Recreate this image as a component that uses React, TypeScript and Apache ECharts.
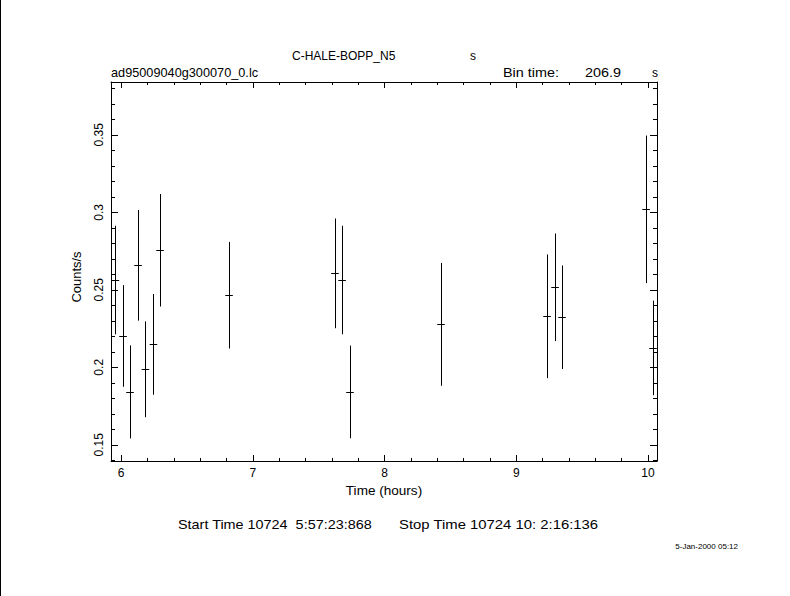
import React, { useEffect, useRef } from "react";
import * as echarts from "echarts";

// Light curve bins (time in hours, counts/s, 1-sigma error)
const times = [5.956, 6.014, 6.067, 6.128, 6.184, 6.245, 6.295, 6.819, 7.623, 7.677, 7.737, 8.428, 9.233, 9.294, 9.347, 9.985, 10.038];
const counts = [0.2563, 0.2202, 0.1841, 0.2658, 0.1987, 0.2148, 0.2755, 0.2465, 0.2606, 0.2563, 0.1841, 0.2277, 0.2329, 0.2516, 0.2323, 0.3019, 0.2125];
const errors = [0.035, 0.0328, 0.030, 0.0357, 0.0309, 0.0325, 0.0363, 0.0344, 0.0354, 0.035, 0.0299, 0.0396, 0.0399, 0.0347, 0.0334, 0.0476, 0.0305];
const binTimeSec = 206.9;

const xMin = 5.9226;
const xMax = 10.068;
const yMin = 0.13954;
const yMax = 0.38406;

const xMajor = [6, 7, 8, 9, 10];
const xMinor = [6.2, 6.4, 6.6, 6.8, 7.2, 7.4, 7.6, 7.8, 8.2, 8.4, 8.6, 8.8, 9.2, 9.4, 9.6, 9.8];
const xLabels = ["6", "7", "8", "9", "10"];
const yMajor = [0.15, 0.2, 0.25, 0.3, 0.35];
const yMinor = [0.14, 0.16, 0.17, 0.18, 0.19, 0.21, 0.22, 0.23, 0.24, 0.26, 0.27, 0.28, 0.29, 0.31, 0.32, 0.33, 0.34, 0.36, 0.37, 0.38];
const yLabels = ["0.15", "0.2", "0.25", "0.3", "0.35"];

const FONT = "'Liberation Sans', Arial, sans-serif";
const BLACK = "#000";

function labelFor(values: number[], labels: string[]) {
  return (v: number) => {
    for (let i = 0; i < values.length; i++) {
      if (Math.abs(values[i] - v) < 1e-6) return labels[i];
    }
    return "";
  };
}

function txt(text: string, x: number, y: number, opts: any = {}) {
  return {
    type: "text",
    x,
    y,
    scaleX: opts.scaleX ?? 1,
    rotation: opts.rotation ?? 0,
    style: {
      text,
      fill: BLACK,
      fontSize: opts.fontSize ?? 12,
      fontFamily: FONT,
      align: opts.align ?? "left",
      verticalAlign: "middle",
    },
  };
}

export default function App() {
  const ref = useRef<HTMLDivElement>(null);

  useEffect(() => {
    if (!ref.current) return;
    const chart = echarts.init(ref.current, undefined, { renderer: "svg" });
    const half = binTimeSec / 3600 / 2;
    const data = times.map((t, i) => [t, counts[i], errors[i]]);

    const xBase = (position: string, showLine: boolean, ticks: number[], len: number, labels: boolean) => ({
      type: "value",
      gridIndex: 0,
      position,
      min: xMin,
      max: xMax,
      axisLine: { show: showLine, onZero: false, lineStyle: { color: BLACK, width: 1 } },
      axisTick: { show: true, inside: true, length: len, customValues: ticks, lineStyle: { color: BLACK, width: 1 } },
      axisLabel: labels
        ? { show: true, customValues: xMajor, formatter: labelFor(xMajor, xLabels), margin: 6, color: BLACK, fontSize: 12, fontFamily: FONT }
        : { show: false },
      splitLine: { show: false },
    });
    const yBase = (position: string, showLine: boolean, ticks: number[], len: number, labels: boolean) => ({
      type: "value",
      gridIndex: 0,
      position,
      min: yMin,
      max: yMax,
      axisLine: { show: showLine, onZero: false, lineStyle: { color: BLACK, width: 1 } },
      axisTick: { show: true, inside: true, length: len, customValues: ticks, lineStyle: { color: BLACK, width: 1 } },
      axisLabel: labels
        ? { show: true, customValues: yMajor, formatter: labelFor(yMajor, yLabels), rotate: 90, margin: 6, color: BLACK, fontSize: 12, fontFamily: FONT }
        : { show: false },
      splitLine: { show: false },
    });

    chart.setOption({
      animation: false,
      backgroundColor: "#fff",
      grid: { left: 111, top: 82, width: 546, height: 379, containLabel: false },
      xAxis: [
        xBase("bottom", true, xMajor, 6, true),
        xBase("bottom", false, xMinor, 3, false),
        xBase("top", true, xMajor, 6, false),
        xBase("top", false, xMinor, 3, false),
      ],
      yAxis: [
        yBase("left", true, yMajor, 7, true),
        yBase("left", false, yMinor, 4, false),
        yBase("right", true, yMajor, 7, false),
        yBase("right", false, yMinor, 4, false),
      ],
      series: [
        {
          type: "custom",
          xAxisIndex: 0,
          yAxisIndex: 0,
          data,
          renderItem: (params: any, api: any) => {
            const t = api.value(0);
            const c = api.value(1);
            const e = api.value(2);
            const top = api.coord([t, c + e]);
            const bot = api.coord([t, c - e]);
            const l = api.coord([t - half, c]);
            const r = api.coord([t + half, c]);
            const cs = params.coordSys;
            const sx = Math.round(top[0]) + 0.5;
            const sy = Math.round(l[1]) + 0.5;
            const x1 = Math.max(l[0], cs.x);
            const x2 = Math.min(r[0], cs.x + cs.width);
            return {
              type: "group",
              children: [
                { type: "line", shape: { x1: sx, y1: top[1], x2: sx, y2: bot[1] }, style: { stroke: BLACK, lineWidth: 1 } },
                { type: "line", shape: { x1, y1: sy, x2, y2: sy }, style: { stroke: BLACK, lineWidth: 1 } },
              ],
            };
          },
        },
      ],
      graphic: [
        { type: "line", shape: { x1: 0.5, y1: 0, x2: 0.5, y2: 596 }, style: { stroke: BLACK, lineWidth: 1 } },
        txt("C-HALE-BOPP_N5", 292, 56),
        txt("s", 470, 56),
        txt("ad95009040g300070_0.lc", 111, 73, { scaleX: 1.06 }),
        txt("Bin time:", 503, 73, { scaleX: 1.2 }),
        txt("206.9", 585, 73, { scaleX: 1.2 }),
        txt("s", 652, 73),
        txt("Time (hours)", 384, 491, { align: "center", scaleX: 1.13 }),
        txt("Counts/s", 77, 277, { align: "center", rotation: Math.PI / 2, scaleX: 1.08 }),
        txt("Start Time 10724  5:57:23:868", 178, 525, { scaleX: 1.2 }),
        txt("Stop Time 10724 10: 2:16:136", 399, 525, { scaleX: 1.24 }),
        txt("5-Jan-2000 05:12", 738, 546, { align: "right", fontSize: 8 }),
      ],
    });

    return () => {
      chart.dispose();
    };
  }, []);

  return (
    <div
      ref={ref}
      style={{ position: "fixed", left: 0, top: 0, width: 790, height: 596, background: "#fff" }}
    />
  );
}
